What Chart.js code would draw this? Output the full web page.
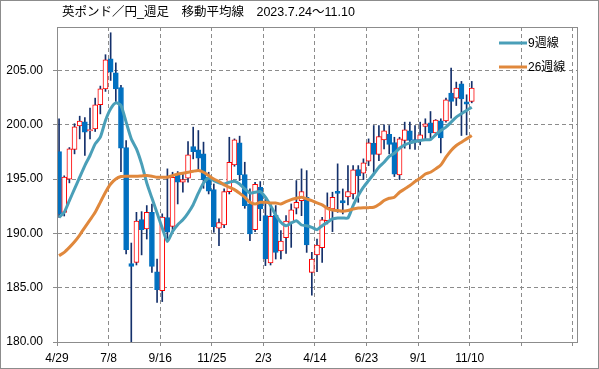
<!DOCTYPE html>
<html>
<head>
<meta charset="utf-8">
<script src="https://cdn.jsdelivr.net/npm/chart.js@4.4.0/dist/chart.umd.min.js"></script>
<style>
  body { margin: 0; background: #fff; }
</style>
</head>
<body>
<canvas id="myChart" width="599" height="369"></canvas>
<script>
// x axis tick labels, one every 10 weeks
const tickLabels = ['4/29', '7/8', '9/16', '11/25', '2/3', '4/14', '6/23', '9/1', '11/10', '', ''];

// weekly candles
const opens  = [197.53,191.93,195.00,197.72,199.90,200.27,199.44,199.62,201.84,203.31,
                206.08,204.79,203.43,197.90,187.21,187.33,191.27,190.40,191.94,186.47,
                184.72,191.45,190.65,195.47,194.71,195.08,198.00,197.69,197.32,195.17,
                194.03,190.47,190.77,193.85,196.30,198.33,195.41,192.71,190.34,194.25,
                191.63,187.27,191.69,188.38,189.61,191.02,192.31,193.02,193.33,186.41,
                188.01,188.68,191.17,192.25,193.88,193.02,193.36,193.63,195.87,195.54,
                196.64,198.30,197.26,198.61,199.13,198.36,195.38,198.55,199.44,198.64,
                198.61,199.84,200.18,199.26,200.36,200.36,202.91,202.45,203.77,202.11,
                202.14];
const highs  = [200.55,195.30,197.90,200.10,200.79,200.67,201.53,202.45,203.56,206.45,
                208.47,205.70,203.62,198.55,189.11,191.94,192.00,192.56,192.70,187.64,
                191.80,195.94,195.63,195.69,195.63,198.46,199.78,199.47,198.40,195.63,
                194.55,191.33,194.09,198.85,198.70,198.95,196.55,194.09,194.71,194.77,
                193.17,192.86,192.56,190.25,191.63,192.71,194.86,195.94,195.78,188.25,
                189.48,191.48,193.73,193.79,196.40,194.09,196.24,196.24,196.24,196.86,
                198.70,199.93,199.93,199.99,199.93,198.85,198.85,200.24,200.24,199.93,
                200.24,200.55,201.22,200.48,200.55,202.45,205.22,203.93,203.99,202.76,
                203.99];
const lows   = [191.48,191.60,194.65,197.32,198.70,197.17,198.70,199.38,201.00,203.07,
                204.08,202.14,195.69,188.10,179.96,187.09,188.02,189.48,186.41,183.65,
                183.72,189.48,190.25,192.71,193.79,194.71,196.86,195.87,194.15,193.63,
                190.10,188.87,190.53,193.63,196.18,194.86,192.31,189.33,190.16,191.17,
                187.03,187.09,187.64,187.64,188.16,188.71,191.79,191.63,188.25,184.32,
                186.47,187.33,190.87,190.16,191.94,191.79,192.62,193.17,192.86,194.95,
                196.24,195.38,196.70,197.78,197.32,195.23,194.95,197.84,197.78,197.72,
                198.15,198.70,198.70,199.01,197.41,200.24,200.61,201.77,199.01,199.07,
                202.02];
const closes = [191.79,195.19,197.78,199.81,200.33,199.32,199.56,201.84,203.31,205.98,
                204.85,203.31,197.84,188.50,186.96,191.14,190.34,191.94,186.96,184.81,
                191.51,190.10,195.17,194.71,194.95,197.23,197.53,196.92,194.95,193.88,
                190.62,190.99,193.85,196.55,198.61,195.41,192.56,189.94,194.52,192.25,
                187.64,191.57,188.25,189.30,191.14,192.16,192.86,193.85,188.93,187.64,
                188.93,191.24,192.40,193.33,193.69,192.80,193.85,195.84,195.29,196.49,
                198.33,197.26,198.92,199.44,198.18,195.44,198.70,199.53,198.55,198.40,
                199.07,200.09,199.26,200.42,198.79,202.30,202.14,203.37,202.39,201.90,
                203.37];

// moving averages
const ma9  = [191.48,191.94,193.02,194.09,195.17,196.24,197.17,198.24,198.86,200.39,
              201.47,202.02,201.78,200.24,198.70,197.78,196.40,194.64,193.25,191.87,
              190.49,189.25,190.18,190.80,191.25,191.87,192.64,193.70,194.64,195.10,
              194.86,194.65,194.55,194.71,194.80,194.55,194.09,193.72,193.79,193.85,
              193.33,192.56,191.69,191.02,190.70,190.96,191.17,190.77,190.70,190.56,
              190.34,190.71,191.02,191.33,191.42,191.42,191.42,192.56,193.48,194.25,
              194.86,195.47,196.09,196.55,197.10,197.38,197.84,198.15,198.33,198.46,
              198.55,198.61,198.64,199.07,199.47,199.78,200.24,200.70,201.01,201.32,
              201.62];
const ma26 = [187.95,188.25,188.71,189.23,189.85,190.56,191.24,191.94,192.86,193.79,
              194.55,195.01,195.23,195.26,195.26,195.26,195.29,195.32,195.26,195.17,
              195.17,195.17,195.32,195.47,195.54,195.63,195.72,195.78,195.63,195.32,
              195.01,194.77,194.46,194.25,194.03,193.69,193.33,192.86,192.71,192.86,
              192.86,192.80,192.80,192.71,192.92,193.11,193.23,193.33,193.17,193.02,
              192.80,192.62,192.31,192.16,192.10,192.03,192.10,192.25,192.34,192.37,
              192.37,192.40,192.65,193.02,193.23,193.33,193.79,194.09,194.40,194.77,
              195.08,195.47,195.63,195.94,196.30,197.01,197.63,198.09,198.40,198.70,
              199.01];

const titleText = '英ポンド／円_週足　移動平均線　2023.7.24〜11.10';
const FONT = '"Liberation Sans", "Noto Sans CJK JP", sans-serif';
const GRID = '#8c8c8c';
const xOff = 0.4;   // candles sit a little right of the week line

const wickData = opens.map((o, i) => ({x: i + xOff, y: [lows[i], highs[i]]}));
const bodyData = opens.map((o, i) => ({x: i + xOff, y: [o, closes[i]]}));
const isUp = opens.map((o, i) => closes[i] >= o);

const framePlugin = {
    id: 'frame',
    afterDraw(chart) {
        const c = chart.ctx;
        const a = chart.chartArea;
        c.save();
        c.strokeStyle = GRID;
        c.lineWidth = 1;
        c.strokeRect(a.left + 0.5, a.top + 0.5, a.right - a.left, a.bottom - a.top);
        c.strokeRect(0.5, 0.5, chart.width - 1, chart.height - 1);

        c.fillStyle = '#000';
        c.textBaseline = 'middle';
        c.textAlign = 'left';
        c.font = '12.5px ' + FONT;
        c.fillText(titleText, 62, 13);

        // legend for the two lines
        c.font = '12px ' + FONT;
        [[2, 43], [3, 67]].forEach(([di, y]) => {
            const ds = chart.data.datasets[di];
            c.strokeStyle = ds.borderColor;
            c.lineWidth = 3;
            c.beginPath();
            c.moveTo(499, y);
            c.lineTo(527, y);
            c.stroke();
            c.fillText(ds.label, 528, y + 1);
        });
        c.restore();
    }
};

const ctx = document.getElementById('myChart').getContext('2d');
const myChart = new Chart(ctx, {
    data: {
        datasets: [{
            type: 'bar',
            label: 'wick',
            data: wickData,
            backgroundColor: '#14306b',
            barThickness: 1,
            grouped: false,
            order: 4
        }, {
            type: 'bar',
            label: 'body',
            data: bodyData,
            backgroundColor: isUp.map(u => u ? '#ffffff' : '#0070c0'),
            borderColor: isUp.map(u => u ? '#ff0000' : '#0070c0'),
            borderWidth: 1,
            borderSkipped: false,
            barThickness: 5,
            grouped: false,
            order: 3
        }, {
            type: 'line',
            label: '9週線',
            data: ma9.map((v, i) => ({x: i + xOff, y: v})),
            borderColor: '#4a9fb8',
            borderWidth: 3,
            pointRadius: 0,
            tension: 0.2,
            order: 2
        }, {
            type: 'line',
            label: '26週線',
            data: ma26.map((v, i) => ({x: i + xOff, y: v})),
            borderColor: '#e0883c',
            borderWidth: 3,
            pointRadius: 0,
            tension: 0.2,
            order: 1
        }]
    },
    options: {
        responsive: false,
        animation: false,
        layout: { padding: { top: 27, right: 22, left: 0, bottom: 0 } },
        plugins: {
            legend: { display: false },
            tooltip: { enabled: false },
            title: { display: false }
        },
        scales: {
            x: {
                type: 'linear',
                min: 0,
                max: 100.8,
                offset: false,
                afterBuildTicks: (scale) => {
                    scale.ticks = tickLabels.map((t, i) => ({value: i * 10}));
                },
                afterFit: (scale) => { scale.height = 27; },
                ticks: {
                    callback: (v) => tickLabels[Math.round(v / 10)],
                    font: { size: 12, family: FONT },
                    color: '#000',
                    padding: 5,
                    maxRotation: 0,
                    autoSkip: false
                },
                grid: { color: GRID, tickLength: 4, offset: false },
                border: { color: GRID, dash: [4, 3] }
            },
            y: {
                min: 180,
                max: 209,
                afterFit: (scale) => { scale.width = 57; },
                ticks: {
                    stepSize: 5,
                    includeBounds: false,
                    callback: (v) => v.toFixed(2),
                    font: { size: 12, family: FONT },
                    color: '#000',
                    padding: 10
                },
                grid: { color: GRID, tickLength: 4 },
                border: { color: GRID, dash: [4, 3] }
            }
        }
    },
    plugins: [framePlugin]
});
</script>
</body>
</html>
